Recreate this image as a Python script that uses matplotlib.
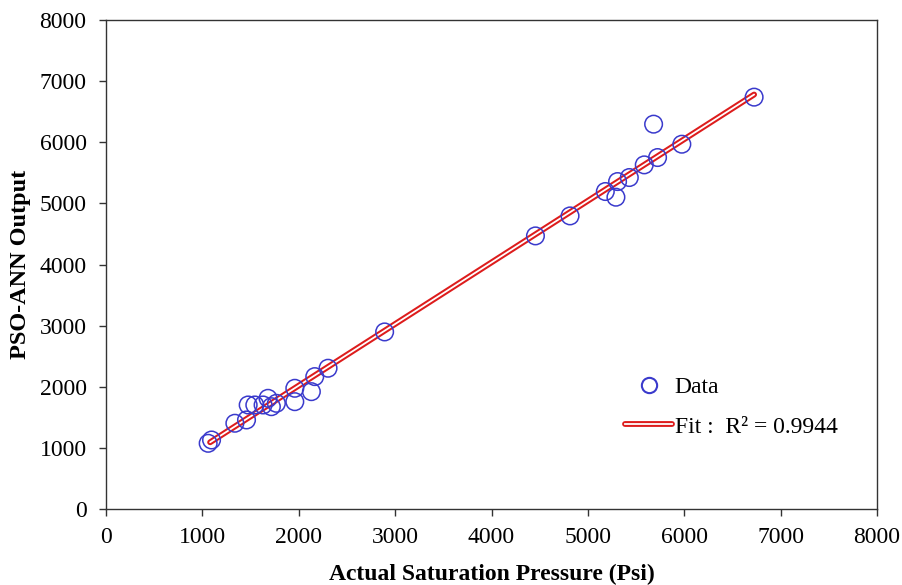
import matplotlib
matplotlib.use("Agg")
import matplotlib.pyplot as plt
from matplotlib.lines import Line2D
from matplotlib.legend_handler import HandlerTuple
import numpy as np

# ── Data ──────────────────────────────────────────────────────────────────────
actual = [1060, 1095, 1337, 1458, 1475, 1544, 1630, 1681, 1716, 1768,
          1959, 1959, 2131, 2166, 2304, 2891,
          4456, 4815, 5181, 5291, 5308, 5430, 5585, 5682, 5723, 5975, 6725]
predicted = [1075, 1129, 1403, 1457, 1702, 1702, 1702, 1811, 1674, 1729,
             1756, 1975, 1920, 2166, 2303, 2897,
             4468, 4795, 5194, 5101, 5357, 5423, 5630, 6296, 5750, 5968, 6738]
R2_LABEL = "0.9944"

TICKS = [0, 1000, 2000, 3000, 4000, 5000, 6000, 7000, 8000]

BLUE = "#3a3acc"
RED = "#dd1c1c"

plt.rcParams.update({
    "font.family": "Liberation Serif",
    "font.size": 17,
})

fig = plt.figure(figsize=(9.03, 5.85), dpi=100)
ax = fig.add_axes([0.1174, 0.1299, 0.8538, 0.8359])

x = np.array(actual, dtype=float)
y = np.array(predicted, dtype=float)
slope, icpt = np.polyfit(x, y, 1)
xf = np.array([x.min() + 20, x.max()])
yf = slope * xf + icpt

# fit line: red with white core
ax.plot(xf, yf, color=RED, lw=4.2, solid_capstyle="round", zorder=3)
ax.plot(xf, yf, color="white", lw=1.3, solid_capstyle="round", zorder=4)

ax.scatter(x, y, s=160, facecolors="none", edgecolors=BLUE, linewidths=1.1, zorder=5)

ax.set_xlim(0, 8000)
ax.set_ylim(0, 8000)
ax.set_xticks(TICKS)
ax.set_yticks(TICKS)
ax.tick_params(direction="out", length=5, width=1, color="#333333", labelsize=17)
ax.tick_params(axis="x", pad=8)
ax.tick_params(axis="y", pad=9)
for sp in ax.spines.values():
    sp.set_color("#333333")
    sp.set_linewidth(1.0)

ax.set_xlabel("Actual Saturation Pressure (Psi)", fontsize=17, fontweight="bold")
ax.set_ylabel("PSO-ANN Output", fontsize=17.5, fontweight="bold")
ax.xaxis.set_label_coords(0.5, -0.113)
ax.yaxis.set_label_coords(-0.097, 0.5)

h_data = Line2D([], [], ls="none", marker="o", ms=11, mfc="none", mec=BLUE, mew=1.5)
h_red = Line2D([], [], color=RED, lw=4.2, solid_capstyle="round")
h_white = Line2D([], [], color="white", lw=1.3)
ax.legend([h_data, (h_red, h_white)], ["Data", "Fit :  R\u00b2 = " + R2_LABEL],
          handler_map={tuple: HandlerTuple(ndivide=1, pad=0)},
          loc="lower left", bbox_to_anchor=(0.652, 0.112), frameon=False,
          fontsize=17, handlelength=2.0, handletextpad=0.1, labelspacing=0.75,
          borderpad=0.2)

fig.savefig("out.png", dpi=100)
